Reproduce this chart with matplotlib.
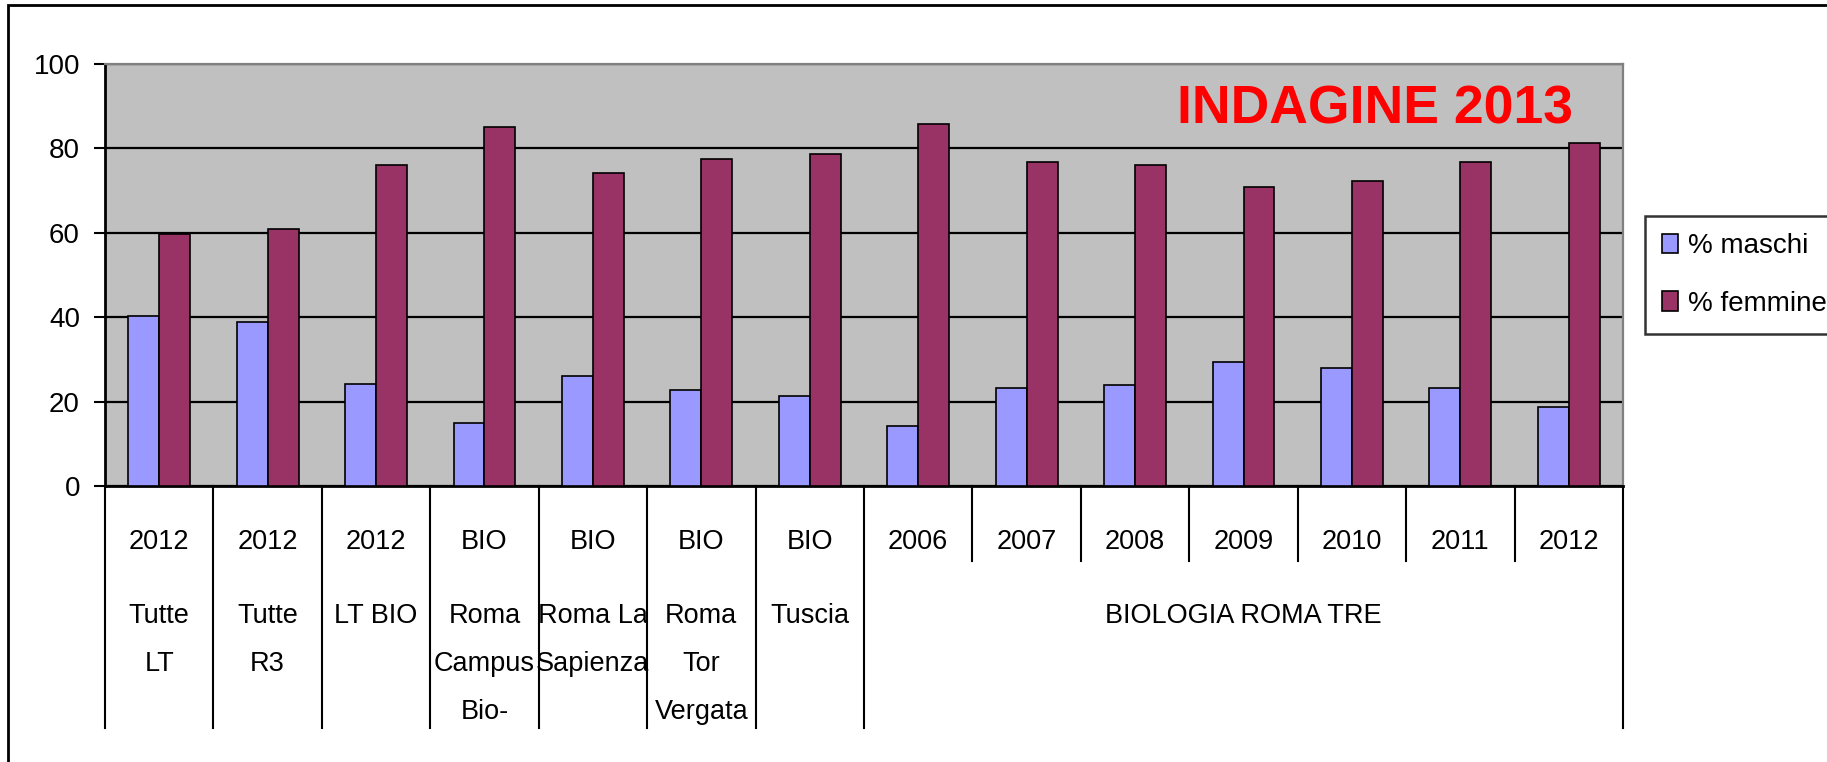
import matplotlib
matplotlib.use("Agg")
import matplotlib.pyplot as plt
from matplotlib import font_manager
from matplotlib.patches import Rectangle

# pick a narrow Arial-like font if present
FONT = "Liberation Sans"
for name in ["Liberation Sans Narrow", "Arial Narrow"]:
    try:
        font_manager.findfont(name, fallback_to_default=False)
        FONT = name
        break
    except Exception:
        pass
plt.rcParams['font.family'] = [FONT, 'DejaVu Sans']

# data
top_labels = ["2012", "2012", "2012", "BIO", "BIO", "BIO", "BIO",
              "2006", "2007", "2008", "2009", "2010", "2011", "2012"]
sub_labels = [["Tutte", "LT"], ["Tutte", "R3"], ["LT BIO"],
              ["Roma", "Campus", "Bio-"], ["Roma La", "Sapienza"],
              ["Roma", "Tor", "Vergata"], ["Tuscia"]]
group_label = "BIOLOGIA ROMA TRE"
maschi = [40.2, 38.9, 24.1, 14.9, 26.0, 22.8, 21.4,
          14.2, 23.3, 24.0, 29.3, 27.9, 23.3, 18.8]
femmine = [59.8, 61.0, 76.0, 85.1, 74.1, 77.4, 78.7,
           85.8, 76.7, 76.0, 70.9, 72.2, 76.7, 81.2]

W, H = 1827, 762
fig = plt.figure(figsize=(W / 100, H / 100), dpi=100)
ax = fig.add_axes([105 / W, (H - 486) / H, (1623 - 105) / W, (486 - 64) / H])
ax.set_facecolor("#C0C0C0")

n = len(maschi)
x = list(range(n))
bw = 0.2857
ax.bar([i - bw / 2 for i in x], maschi, bw, color="#9999FF",
       edgecolor="black", linewidth=1.2, label="% maschi", zorder=3)
ax.bar([i + bw / 2 for i in x], femmine, bw, color="#993366",
       edgecolor="black", linewidth=1.2, label="% femmine", zorder=3)

ax.set_xlim(-0.5, n - 0.5)
ax.set_ylim(0, 100)
ax.set_yticks(range(0, 101, 20))
ax.yaxis.grid(True, color="black", linewidth=1.6, zorder=1)
ax.set_axisbelow(True)
ax.tick_params(axis="y", length=8, width=1.5, pad=10, labelsize=20)
ax.set_xticks([])
for s in ["left", "bottom"]:
    ax.spines[s].set_linewidth(2)
    ax.spines[s].set_color("black")
for s in ["top", "right"]:
    ax.spines[s].set_linewidth(1.6)
    ax.spines[s].set_color("#808080")

# multi-level category axis
ph = 486 - 64
def yf(py):
    return (486 - py) / ph

trans = ax.get_xaxis_transform()
for k in range(n + 1):
    xb = k - 0.5
    low = yf(561) if 8 <= k <= 13 else yf(728)
    ax.plot([xb, xb], [0, low], transform=trans, color="black",
            linewidth=1.5, clip_on=False)

fs = 19.5
for i, t in enumerate(top_labels):
    ax.text(i, yf(542), t, transform=trans, ha="center", va="center",
            fontsize=fs)
for i, lines in enumerate(sub_labels):
    for r, t in enumerate(lines):
        ax.text(i, yf(616 + 48 * r), t, transform=trans, ha="center",
                va="center", fontsize=fs)
ax.text((7 + 13) / 2, yf(616), group_label, transform=trans, ha="center",
        va="center", fontsize=fs)

ax.text(1573 / W, (H - 110) / H, "INDAGINE 2013", transform=fig.transFigure,
        ha="right", va="center", fontsize=38.5, fontweight="bold",
        color="#FF0000")

leg = ax.legend(loc="upper left", bbox_to_anchor=(1645 / W, (H - 216) / H),
                bbox_transform=fig.transFigure, fontsize=20, frameon=True,
                fancybox=False, edgecolor="black", handlelength=0.55,
                handleheight=0.7, handletextpad=0.36, borderpad=0.62,
                labelspacing=1.13, borderaxespad=0)
leg.get_frame().set_linewidth(1.8)

# outer chart border
fig.patches.append(Rectangle((8 / W, -0.1), 1.2, (H - 5) / H + 0.1,
                             transform=fig.transFigure, fill=False,
                             edgecolor="black", linewidth=2))

fig.savefig("out.png", dpi=100)
